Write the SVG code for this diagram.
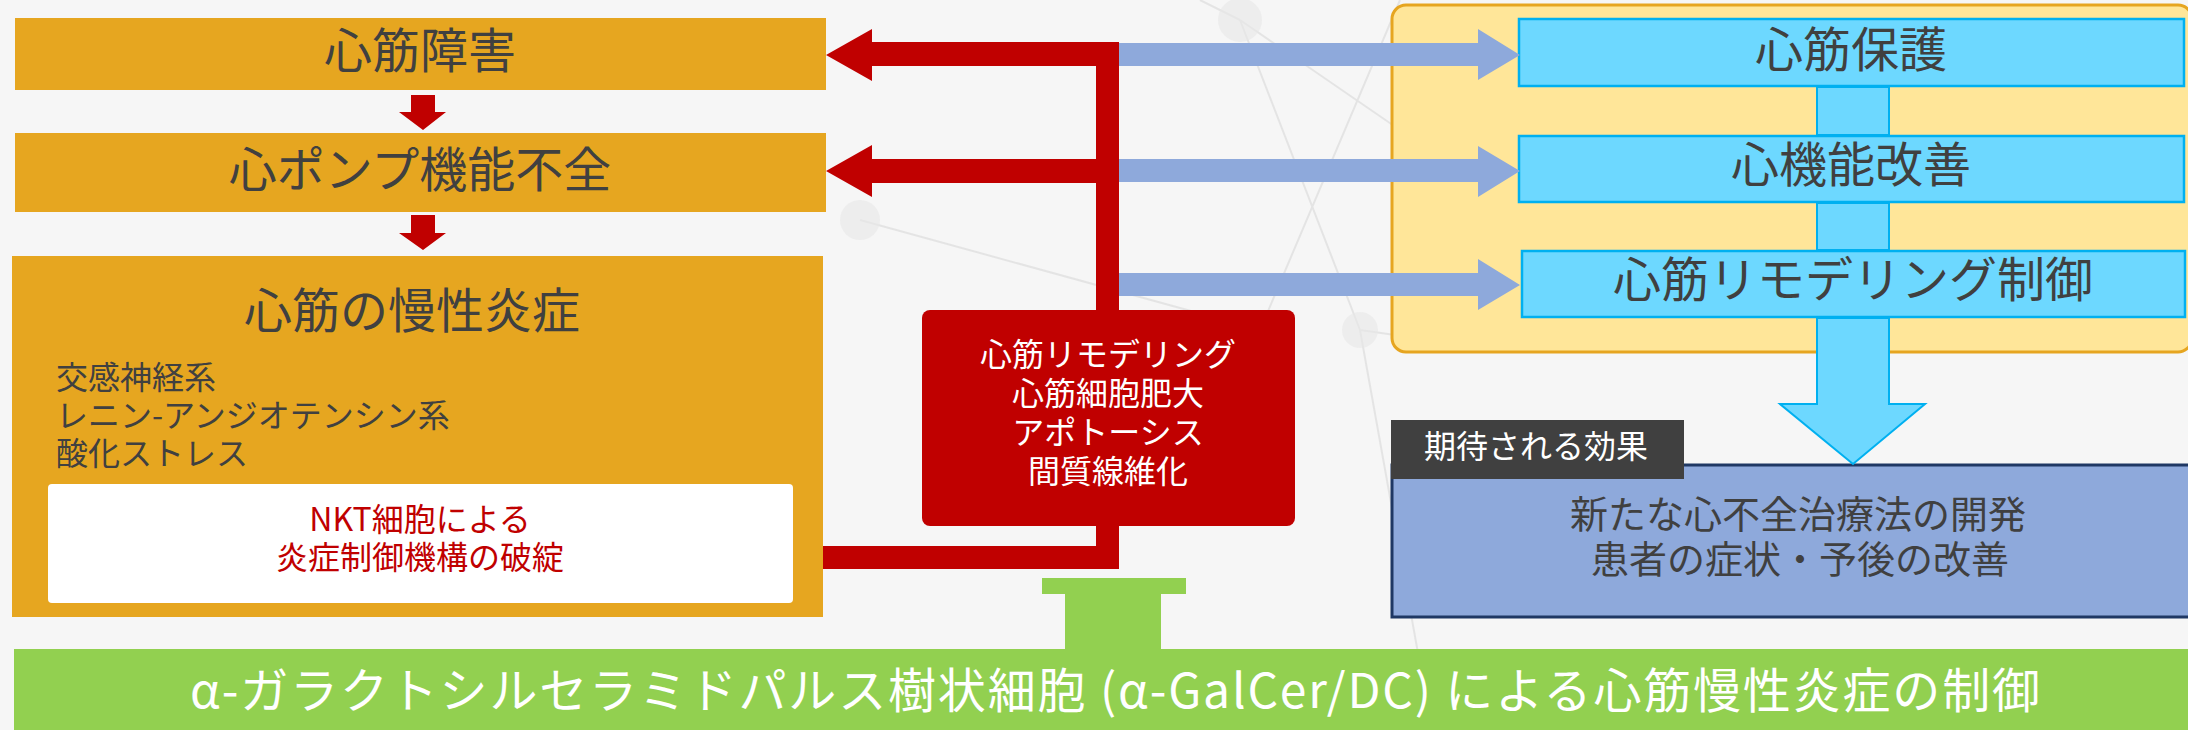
<svg xmlns="http://www.w3.org/2000/svg" width="2188" height="730" viewBox="0 0 2188 730">
<style>
.t{font-family:"Noto Sans CJK JP","Noto Sans",sans-serif;fill:#404040;text-anchor:middle}
.big{font-size:48px}
.mid{font-size:32px}
.w{fill:#ffffff}
.r{fill:#C00000}
.ob{fill:#E6A620}
.cy{fill:#6DD8FF;stroke:#00B0F0;stroke-width:2.5}
.deco{stroke:#d9d9d9;stroke-width:2;fill:none;opacity:0.6}
</style>
<rect x="0" y="0" width="2188" height="730" fill="#F6F6F6"/>
<g id="background">
<path class="deco" d="M1240 20 L1400 130 M1400 0 L1260 330 M1240 20 L1360 330 M860 220 L1260 330 M1200 0 L1240 20 M1360 330 L1500 350 M1580 20 L1680 260 M1360 330 L1430 720"/>
<circle cx="1240" cy="20" r="22" fill="#e8e8e8" opacity="0.6"/>
<circle cx="860" cy="220" r="20" fill="#e8e8e8" opacity="0.6"/>
<circle cx="1360" cy="330" r="18" fill="#e8e8e8" opacity="0.6"/>
</g>
<g id="n-shogai">
<rect class="ob" x="15" y="18" width="811" height="72"/>
<text class="t big" x="420" y="68">心筋障害</text>
</g>
<g id="n-pump">
<rect class="ob" x="15" y="133" width="811" height="79"/>
<text class="t big" x="420" y="187">心ポンプ機能不全</text>
</g>
<g id="n-inflammation">
<rect class="ob" x="12" y="256" width="811" height="361"/>
<text class="t big" x="412" y="328">心筋の慢性炎症</text>
<text class="t mid" x="56" y="389" style="text-anchor:start">交感神経系</text>
<text class="t mid" x="56" y="427" style="text-anchor:start">レニン-アンジオテンシン系</text>
<text class="t mid" x="56" y="465" style="text-anchor:start">酸化ストレス</text>
<rect x="48" y="484" width="745" height="119" rx="4" fill="#ffffff"/>
<text class="t mid" x="420" y="531" style="fill:#C00000">NKT細胞による</text>
<text class="t mid" x="420" y="569" style="fill:#C00000">炎症制御機構の破綻</text>
</g>
<g id="n-remodeling">
<rect x="922" y="310" width="373" height="216" rx="8" fill="#C00000"/>
<text class="t mid w" x="1108" y="366">心筋リモデリング</text>
<text class="t mid w" x="1108" y="405">心筋細胞肥大</text>
<text class="t mid w" x="1108" y="444">アポトーシス</text>
<text class="t mid w" x="1108" y="483">間質線維化</text>
</g>
<g id="n-effects-group">
<rect x="1392" y="5" width="800" height="347" rx="14" fill="#FFE699" stroke="#E6A520" stroke-width="3"/>
</g>
<g id="n-hogo">
<rect class="cy" x="1519" y="19" width="665" height="67"/>
<text class="t big" x="1851" y="67">心筋保護</text>
</g>
<g id="n-kinou">
<rect class="cy" x="1519" y="136" width="665" height="66"/>
<text class="t big" x="1851" y="182">心機能改善</text>
</g>
<g id="n-seigyo">
<rect class="cy" x="1522" y="251" width="663" height="66"/>
<text class="t big" x="1853" y="297">心筋リモデリング制御</text>
</g>
<g id="n-result">
<rect x="1392" y="465" width="800" height="152" fill="#8EA9DB" stroke="#1F3864" stroke-width="3"/>
<text class="t" x="1798" y="528" style="font-size:38px">新たな心不全治療法の開発</text>
<text class="t" x="1800" y="573" style="font-size:38px">患者の症状・予後の改善</text>
</g>
<g id="n-label">
<rect x="1391" y="420" width="293" height="59" fill="#404040"/>
<text class="t mid w" x="1536" y="458">期待される効果</text>
</g>
<g id="n-treatment">
<rect x="14" y="649" width="2174" height="81" fill="#92D050"/>
<text class="t w" x="1115" y="708" style="font-size:48px" textLength="1850" lengthAdjust="spacing">α-ガラクトシルセラミドパルス樹状細胞 (α-GalCer/DC) による心筋慢性炎症の制御</text>
</g>
<g id="connectors">
<polygon fill="#C00000" points="411,95 435,95 435,112 446,112 423,130 399,112 411,112"/>
<polygon fill="#C00000" points="411,215 435,215 435,233 446,233 423,250 399,233 411,233"/>
<polygon fill="#C00000" points="1119,42 1119,310 1096,310 1096,66 872,66 872,81 826,55 872,29 872,42"/>
<polygon fill="#C00000" points="1096,159 1096,183 872,183 872,197 826,171 872,145 872,159"/>
<polygon fill="#C00000" points="1096,526 1119,526 1119,569 823,569 823,546 1096,546"/>
<polygon fill="#8EA9DB" points="1119,43 1478,43 1478,29 1520,55 1478,80 1478,66 1119,66"/>
<polygon fill="#8EA9DB" points="1119,159 1478,159 1478,146 1520,171 1478,197 1478,182 1119,182"/>
<polygon fill="#8EA9DB" points="1119,273 1478,273 1478,259 1520,285 1478,310 1478,296 1119,296"/>
<rect x="1817" y="87" width="72" height="48" fill="#6DD8FF" stroke="#00B0F0" stroke-width="2"/>
<rect x="1817" y="203" width="72" height="47" fill="#6DD8FF" stroke="#00B0F0" stroke-width="2"/>
<polygon fill="#6DD8FF" stroke="#00B0F0" stroke-width="2" points="1817,318 1889,318 1889,404 1925,404 1853,464 1780,404 1817,404"/>
<polygon fill="#92D050" points="1042,578 1186,578 1186,594 1161,594 1161,650 1065,650 1065,594 1042,594"/>
</g>
</svg>
